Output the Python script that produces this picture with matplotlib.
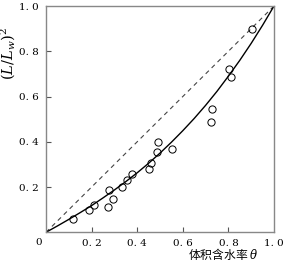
import matplotlib
matplotlib.use("Agg")
import matplotlib.pyplot as plt

# measured points
theta_pts = [0.118, 0.188, 0.212, 0.276, 0.273, 0.292, 0.333, 0.354, 0.378,
             0.453, 0.460, 0.487, 0.490, 0.554, 0.725, 0.727, 0.804, 0.811, 0.903]
ratio_pts = [0.059, 0.100, 0.120, 0.188, 0.110, 0.148, 0.200, 0.230, 0.256,
             0.281, 0.306, 0.353, 0.399, 0.368, 0.489, 0.545, 0.722, 0.688, 0.897]

# fitted curve
theta_fit = [0.0, 0.05, 0.1, 0.15, 0.2, 0.25, 0.3, 0.35, 0.4, 0.45, 0.5,
             0.55, 0.6, 0.65, 0.7, 0.75, 0.8, 0.85, 0.9, 0.95, 1.0]
ratio_fit = [0.0, 0.028, 0.057, 0.087, 0.118, 0.152, 0.187, 0.224, 0.263, 0.305, 0.350,
             0.398, 0.449, 0.503, 0.561, 0.623, 0.690, 0.760, 0.835, 0.915, 1.0]

ticks = [0.2, 0.4, 0.6, 0.8, 1.0]
tick_labels = ["0. 2", "0. 4", "0. 6", "0. 8", "1. 0"]

plt.rcParams["mathtext.fontset"] = "dejavuserif"

fig = plt.figure(figsize=(2.84, 2.66), dpi=100)
ax = fig.add_axes([46/284, (266-232.3)/266, 228/284, 226.3/266])

ax.plot([0, 1], [0, 1], color="#444444", lw=0.8, dashes=(4, 3.5))
ax.plot(theta_fit, ratio_fit, color="black", lw=1.0)
ax.plot(theta_pts, ratio_pts, "o", mfc="none", mec="black", ms=5.2, mew=0.7)

ax.set_xlim(0, 1)
ax.set_ylim(0, 1)
ax.set_xticks(ticks)
ax.set_yticks(ticks)
ax.set_xticklabels(tick_labels, family="DejaVu Serif", fontsize=7.5)
ax.set_yticklabels(tick_labels, family="DejaVu Serif", fontsize=7.5)
ax.tick_params(direction="in", length=3.6, width=0.8, color="#555555", pad=5)
for t in ax.xaxis.get_major_ticks()[-1:]:
    t.tick1line.set_visible(False)
for t in ax.yaxis.get_major_ticks()[-1:]:
    t.tick1line.set_visible(False)
for s in ax.spines.values():
    s.set_color("#888888")
    s.set_linewidth(1.0)

ax.text(-0.031, -0.047, "0", transform=ax.transAxes, ha="center", va="center",
        family="DejaVu Serif", fontsize=7.5)
ax.text(-0.165, 0.79, r"$(L/L_w)^2$", transform=ax.transAxes, ha="center", va="center",
        rotation=90, fontsize=10.5)
ax.text(0.777, -0.1, r"体积含水率 $\theta$", transform=ax.transAxes, ha="center", va="center",
        family=["Noto Sans CJK SC", "DejaVu Serif"], fontsize=8.5)

fig.savefig("out.png", dpi=100)
